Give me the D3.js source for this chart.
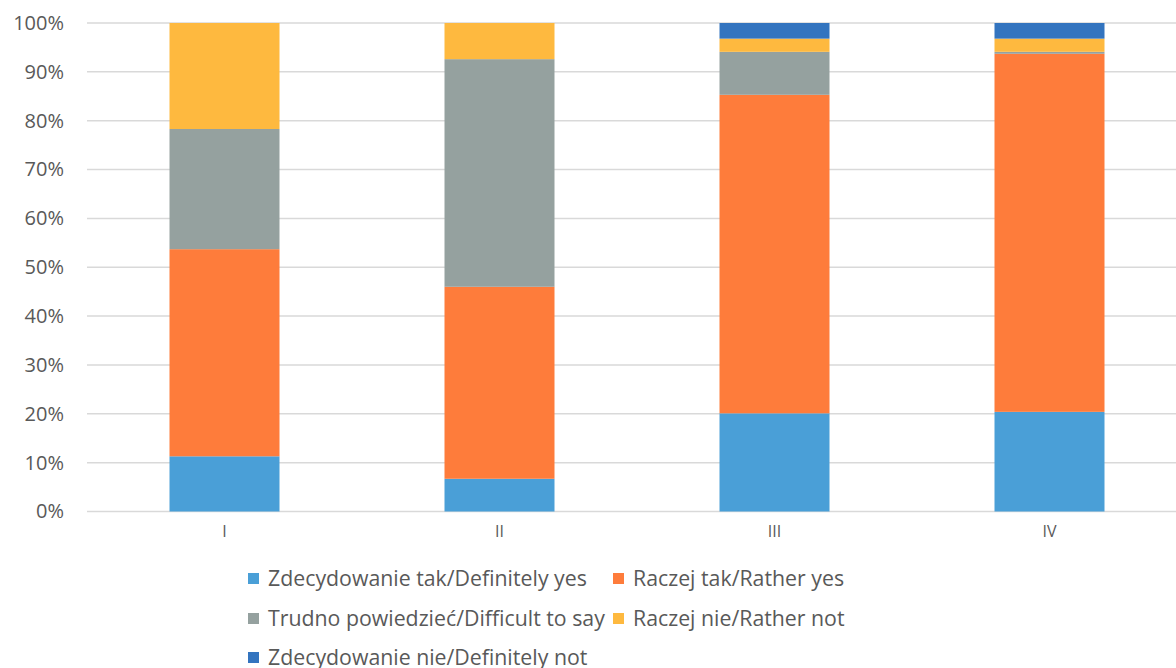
<!DOCTYPE html>
<html>
<head>
<meta charset="utf-8">
<script src="https://cdn.jsdelivr.net/npm/d3@7"></script>
<style>
  body { margin: 0; background: #fff; }
  svg { display: block; font-family: "Open Sans", sans-serif; }
</style>
</head>
<body>
<svg id="chart" width="1176" height="668"></svg>
<script>
// data (percent)
var categories = ["I", "II", "III", "IV"];
var seriesNames = [
    "Zdecydowanie tak/Definitely yes",
    "Raczej tak/Rather yes",
    "Trudno powiedzieć/Difficult to say",
    "Raczej nie/Rather not",
    "Zdecydowanie nie/Definitely not"
];
var definitelyYes = [11.3, 6.7, 20.1, 20.4];
var ratherYes = [42.4, 39.3, 65.2, 73.3];
var difficult = [24.6, 46.6, 8.8, 0.4];
var ratherNot = [21.7, 7.4, 2.7, 2.7];
var definitelyNot = [0, 0, 3.2, 3.2];
var yTicks = [0, 10, 20, 30, 40, 50, 60, 70, 80, 90, 100];
var colors = ["#4a9fd7", "#fe7c3b", "#95a19f", "#feb93f", "#3374bf"];

var svg = d3.select("#chart"),
    plotLeft = 87,
    plotRight = 1187,
    plotTop = 23,
    plotBottom = 511.5;

var allSeries = [definitelyYes, ratherYes, difficult, ratherNot, definitelyNot];
var rows = categories.map(function (c, i) {
    var row = { cat: c };
    seriesNames.forEach(function (s, k) { row[s] = allSeries[k][i]; });
    return row;
});
var stacked = d3.stack().keys(seriesNames)(rows);

var xScale = d3.scaleBand().domain(categories).range([plotLeft, plotRight]).paddingInner(0.6).paddingOuter(0.3);
var yScale = d3.scaleLinear().domain([0, 100]).range([plotBottom, plotTop]);

// gridlines
svg.append("g")
    .selectAll("line")
    .data(yTicks)
    .enter().append("line")
    .attr("x1", plotLeft).attr("x2", 1176)
    .attr("y1", function (d) { return yScale(d); })
    .attr("y2", function (d) { return yScale(d); })
    .attr("stroke", "#d9d9d9")
    .attr("stroke-width", 1.5);

// y axis labels
var yAxis = d3.axisLeft(yScale).tickValues(yTicks).tickSize(0).tickPadding(0)
    .tickFormat(function (d) { return d + "%"; });
svg.append("g")
    .attr("transform", "translate(64,0)")
    .call(yAxis)
    .call(function (g) { g.select(".domain").remove(); })
    .selectAll("text")
    .attr("font-family", "Open Sans, sans-serif")
    .attr("font-size", 20)
    .attr("fill", "#595959");

// bars
svg.append("g")
    .selectAll("g")
    .data(stacked)
    .enter().append("g")
    .attr("fill", function (d, i) { return colors[i]; })
    .selectAll("rect")
    .data(function (d) { return d; })
    .enter().append("rect")
    .attr("x", function (d) { return xScale(d.data.cat); })
    .attr("width", xScale.bandwidth())
    .attr("y", function (d) { return yScale(d[1]); })
    .attr("height", function (d) { return yScale(d[0]) - yScale(d[1]); });

// x axis labels
var xAxis = d3.axisBottom(xScale).tickSize(0).tickPadding(0);
svg.append("g")
    .attr("transform", "translate(0,526)")
    .call(xAxis)
    .call(function (g) { g.select(".domain").remove(); })
    .selectAll("text")
    .attr("font-family", "Open Sans, sans-serif")
    .attr("font-size", 16)
    .attr("fill", "#595959");

// legend
var legendPos = [[248, 579], [613, 579], [248, 619], [613, 619], [248, 658]];
var legend = svg.append("g")
    .selectAll("g")
    .data(seriesNames)
    .enter().append("g")
    .attr("transform", function (d, i) { return "translate(" + legendPos[i][0] + "," + legendPos[i][1] + ")"; });
legend.append("rect")
    .attr("x", 0).attr("y", -6)
    .attr("width", 11).attr("height", 11)
    .attr("fill", function (d, i) { return colors[i]; });
legend.append("text")
    .attr("x", 20)
    .attr("dy", "0.35em")
    .attr("font-size", 21.3)
    .attr("fill", "#595959")
    .text(function (d) { return d; });
</script>
</body>
</html>
